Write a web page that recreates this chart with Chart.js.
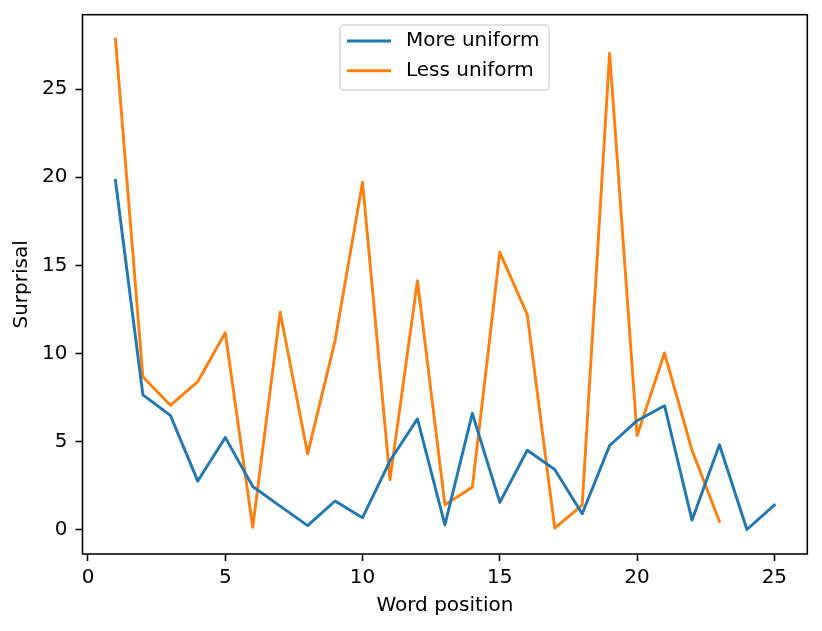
<!DOCTYPE html>
<html>
<head>
<meta charset="utf-8">
<script src="https://cdn.jsdelivr.net/npm/chart.js@4/dist/chart.umd.min.js"></script>
<style>
  html, body { margin: 0; padding: 0; background: #fff; }
  #wrap { width: 822px; height: 631px; }
</style>
</head>
<body>
<div id="wrap"><canvas id="chart" width="822" height="631"></canvas></div>
<script>
const positions = [1, 2, 3, 4, 5, 6, 7, 8, 9, 10, 11, 12, 13, 14, 15, 16, 17, 18, 19, 20, 21, 22, 23, 24, 25];
const moreUniform = [19.82, 7.64, 6.48, 2.75, 5.23, 2.44, 1.33, 0.22, 1.62, 0.67, 3.9, 6.28, 0.26,
                     6.59, 1.54, 4.5, 3.41, 0.89, 4.77, 6.18, 7.03, 0.53, 4.81, 0.0, 1.39];
const lessUniform = [27.84, 8.67, 7.05, 8.4, 11.17, 0.12, 12.34, 4.3, 10.73, 19.72, 2.83, 14.12, 1.41,
                     2.4, 15.74, 12.2, 0.08, 1.39, 27.05, 5.33, 10.02, 4.5, 0.46];
const seriesNames = ['More uniform', 'Less uniform'];
const xTicks = [0, 5, 10, 15, 20, 25];
const yTicks = [0, 5, 10, 15, 20, 25];

const FONT = 'DejaVu Sans';
const FS = 20;
const BLUE = '#1f77b4';
const ORANGE = '#ff7f0e';

function toPoints(values) {
    return values.map((v, i) => ({ x: positions[i], y: v }));
}

// matplotlib-style frame + legend inside the axes
const framePlugin = {
    id: 'frame',
    afterDraw(chart) {
        const { ctx, chartArea: a } = chart;
        ctx.save();
        ctx.strokeStyle = '#000';
        ctx.lineWidth = 1.55;
        ctx.strokeRect(a.left, a.top, a.right - a.left, a.bottom - a.top);

        // legend box
        const bx = 340, by = 25, bw = 209, bh = 65;
        ctx.beginPath();
        ctx.roundRect(bx, by, bw, bh, 4);
        ctx.fillStyle = 'rgba(255,255,255,0.8)';
        ctx.fill();
        ctx.strokeStyle = 'rgba(204,204,204,0.8)';
        ctx.lineWidth = 1.5;
        ctx.stroke();

        const rows = [
            { label: seriesNames[0], color: BLUE, y: 41 },
            { label: seriesNames[1], color: ORANGE, y: 70.7 }
        ];
        ctx.font = FS + 'px "' + FONT + '"';
        ctx.textBaseline = 'middle';
        ctx.textAlign = 'left';
        rows.forEach(r => {
            ctx.beginPath();
            ctx.strokeStyle = r.color;
            ctx.lineWidth = 2.9;
            ctx.moveTo(347, r.y);
            ctx.lineTo(391, r.y);
            ctx.stroke();
            ctx.fillStyle = '#000';
            ctx.fillText(r.label, 406, r.y);
        });
        ctx.restore();
    }
};

new Chart(document.getElementById('chart'), {
    type: 'line',
    data: {
        datasets: [
            {
                label: seriesNames[0],
                data: toPoints(moreUniform),
                borderColor: BLUE,
                borderWidth: 2.9,
                pointRadius: 0,
                tension: 0,
                borderJoinStyle: 'round',
                borderCapStyle: 'square'
            },
            {
                label: seriesNames[1],
                data: toPoints(lessUniform),
                borderColor: ORANGE,
                borderWidth: 2.9,
                pointRadius: 0,
                tension: 0,
                borderJoinStyle: 'round',
                borderCapStyle: 'square'
            }
        ]
    },
    options: {
        responsive: false,
        animation: false,
        devicePixelRatio: 1,
        layout: { padding: { top: 14.7, right: 14.7, left: 0, bottom: 0 } },
        plugins: {
            legend: { display: false },
            tooltip: { enabled: false }
        },
        scales: {
            x: {
                type: 'linear',
                min: -0.2,
                max: 26.2,
                afterBuildTicks: s => { s.ticks = xTicks.map(v => ({ value: v })); },
                afterFit: s => { s.height = 77; s.paddingLeft = 0; s.paddingRight = 0; },
                grid: { drawOnChartArea: false, drawTicks: true, tickLength: 7, tickColor: '#000', tickWidth: 1.55 },
                border: { display: false },
                ticks: { color: '#000', padding: 5, maxRotation: 0, font: { family: FONT, size: FS } },
                title: {
                    display: true,
                    text: 'Word position',
                    color: '#000',
                    font: { family: FONT, size: FS },
                    padding: { top: 0, bottom: 13.5 }
                }
            },
            y: {
                type: 'linear',
                min: -1.39,
                max: 29.23,
                afterBuildTicks: s => { s.ticks = yTicks.map(v => ({ value: v })); },
                afterFit: s => { s.width = 82.5; s.paddingTop = 0; s.paddingBottom = 0; },
                grid: { drawOnChartArea: false, drawTicks: true, tickLength: 7, tickColor: '#000', tickWidth: 1.55 },
                border: { display: false },
                ticks: { color: '#000', padding: 8, font: { family: FONT, size: FS } },
                title: {
                    display: true,
                    text: 'Surprisal',
                    color: '#000',
                    font: { family: FONT, size: FS },
                    padding: { top: 9.5, bottom: 0 }
                }
            }
        }
    },
    plugins: [framePlugin]
});
</script>
</body>
</html>
